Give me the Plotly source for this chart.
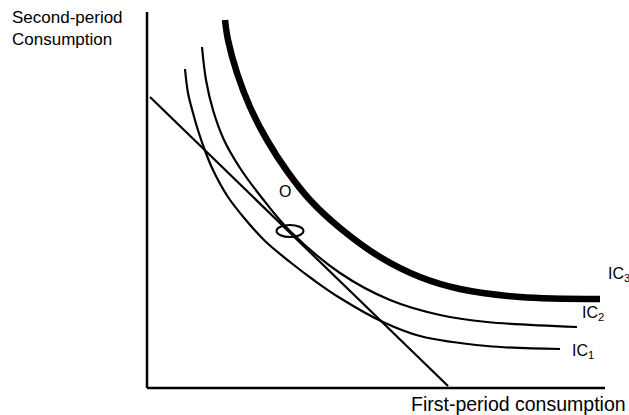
import plotly.graph_objects as go

# Data units: first-period consumption (x) and second-period consumption (y), origin at the axes corner
ic1_x = [38, 41, 46, 50, 57, 66, 81, 98, 118, 143, 168, 193, 236, 273, 340, 413]
ic1_y = [319, 295, 275, 261, 240, 218, 191, 169, 147, 126, 107, 90, 66, 52, 42, 39]

ic2_x = [55, 59, 66, 77, 93, 115, 143, 193, 243, 293, 340, 430]
ic2_y = [341, 308, 278, 248, 220, 190, 157, 115, 88, 73, 66, 61]

ic3_x = [78, 81, 90, 103, 120, 140, 163, 193, 233, 273, 313, 373, 453]
ic3_y = [368, 348, 315, 281, 248, 217, 188, 160, 131, 111, 99, 91, 89]

budget_x = [3, 301]
budget_y = [291, 2]

yaxis_x = [0, 0]
yaxis_y = [0, 376]
xaxis_x = [0, 458]
xaxis_y = [0, 0]

# optimum marker (ellipse) bounds and labels
ellipse_x = [129.5, 156.5]
ellipse_y = [151, 163]

ic_labels = ["IC<sub>1</sub>", "IC<sub>2</sub>", "IC<sub>3</sub>"]
ic_label_x = [423, 433, 459]
ic_label_y = [37, 75, 114]

y_title = "Second-period<br>Consumption"
x_title = "First-period consumption"
point_label = "O"
point_label_xy = [138, 197]

FONT = "Liberation Sans, Arial, sans-serif"

fig = go.Figure()

fig.add_trace(go.Scatter(x=yaxis_x, y=yaxis_y, mode="lines", line=dict(color="black", width=2.5)))
fig.add_trace(go.Scatter(x=xaxis_x, y=xaxis_y, mode="lines", line=dict(color="black", width=2.5)))
fig.add_trace(go.Scatter(x=budget_x, y=budget_y, mode="lines", line=dict(color="black", width=2.2)))
fig.add_trace(go.Scatter(x=ic1_x, y=ic1_y, mode="lines",
                         line=dict(color="black", width=2.2, shape="spline", smoothing=1.0)))
fig.add_trace(go.Scatter(x=ic2_x, y=ic2_y, mode="lines",
                         line=dict(color="black", width=2.2, shape="spline", smoothing=1.0)))
fig.add_trace(go.Scatter(x=ic3_x, y=ic3_y, mode="lines",
                         line=dict(color="black", width=6.5, shape="spline", smoothing=1.0)))

fig.add_shape(type="circle", xref="x", yref="y",
              x0=ellipse_x[0], x1=ellipse_x[1], y0=ellipse_y[0], y1=ellipse_y[1],
              line=dict(color="black", width=2))

annotations = []
for lab, lx, ly in zip(ic_labels, ic_label_x, ic_label_y):
    annotations.append(dict(x=lx, y=ly, xref="x", yref="y", text=lab, showarrow=False,
                            xanchor="left", yanchor="middle",
                            font=dict(family=FONT, size=16, color="black")))
annotations.append(dict(x=point_label_xy[0], y=point_label_xy[1], xref="x", yref="y", text=point_label,
                        showarrow=False, xanchor="center", yanchor="middle",
                        font=dict(family=FONT, size=16, color="black")))
annotations.append(dict(x=10 / 629, y=1 - 6 / 415, xref="paper", yref="paper", text=y_title,
                        showarrow=False, xanchor="left", yanchor="top", align="left",
                        font=dict(family=FONT, size=17, color="black")))
annotations.append(dict(x=481, y=-16, xref="x", yref="y", text=x_title, showarrow=False,
                        xanchor="right", yanchor="middle",
                        font=dict(family=FONT, size=19.5, color="black")))

fig.update_layout(
    width=629, height=415,
    margin=dict(l=0, r=0, t=0, b=0),
    paper_bgcolor="white", plot_bgcolor="white",
    showlegend=False,
    xaxis=dict(range=[-147, 482], visible=False, fixedrange=True),
    yaxis=dict(range=[-27, 388], visible=False, fixedrange=True),
    annotations=annotations,
)

fig.write_html("out.html", config={"displayModeBar": False},
               post_script="document.body.style.margin='0';document.body.style.overflow='hidden';")
